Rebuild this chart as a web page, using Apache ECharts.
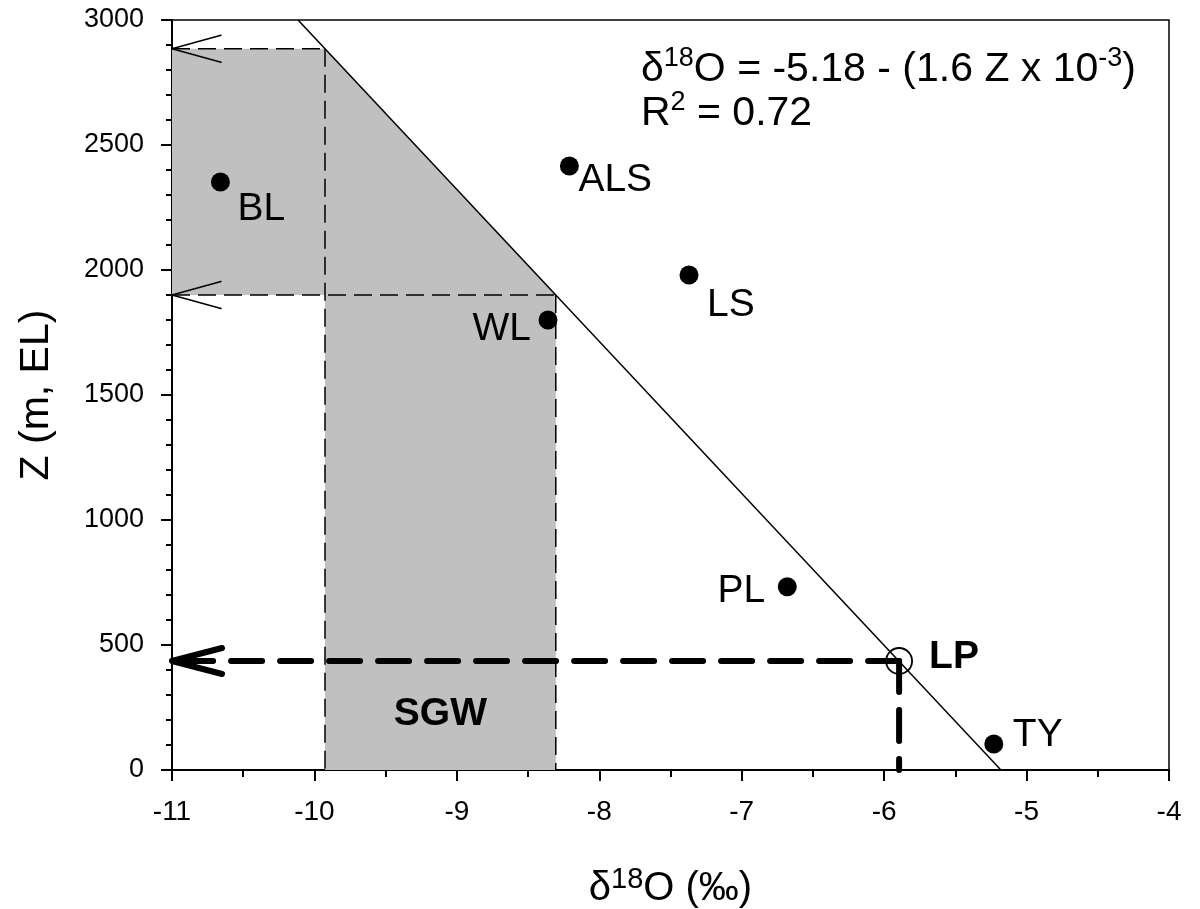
<!DOCTYPE html>
<html><head><meta charset="utf-8">
<script src="https://cdn.jsdelivr.net/npm/echarts@6/dist/echarts.min.js"></script>
<style>html,body{margin:0;padding:0;background:#fff}#c{width:1200px;height:909px}</style>
</head><body><div id="c"></div>
<script>
// ---- data ----
const sampleNames = ['BL', 'ALS', 'LS', 'WL', 'PL', 'TY'];
const sampleD18O = [-10.66, -8.21, -7.37, -8.36, -6.68, -5.23];
const sampleZ = [2352, 2416, 1980, 1800, 733, 104];
const lpName = 'LP';
const lpD18O = -5.895;
const lpZ = 436;
const fitLineD18O = [-5.18, -10.115];
const fitLineZ = [0, 3000];
const sgwZRange = [1900, 2885];
const sgwLabelZ = 224;
const xTicks = [-11, -10, -9, -8, -7, -6, -5, -4];
const yTicks = [0, 500, 1000, 1500, 2000, 2500, 3000];

// ---- styles ----
const FONT = 'Liberation Sans';
const labelStyle = {
  BL:  { align: 'left',  offset: [17, 27] },
  ALS: { align: 'left',  offset: [9, 14] },
  LS:  { align: 'left',  offset: [18, 30] },
  WL:  { align: 'right', offset: [-17, 9] },
  PL:  { align: 'right', offset: [-22, 4] },
  TY:  { align: 'left',  offset: [19, -9] }
};

function fitD18O(z) {
  const t = (z - fitLineZ[0]) / (fitLineZ[1] - fitLineZ[0]);
  return fitLineD18O[0] + t * (fitLineD18O[1] - fitLineD18O[0]);
}
const xMin = xTicks[0], xMax = xTicks[xTicks.length - 1];
const yMin = yTicks[0], yMax = yTicks[yTicks.length - 1];
const dLow = fitD18O(sgwZRange[0]);
const dHigh = fitD18O(sgwZRange[1]);

const sgwPolygon = [
  [xMin, sgwZRange[1]], [dHigh, sgwZRange[1]], [dLow, sgwZRange[0]],
  [dLow, yMin], [dHigh, yMin], [dHigh, sgwZRange[0]], [xMin, sgwZRange[0]]
];

const thinDash = { color: '#000', width: 1.5, type: [18, 8] };
const thickDash = { color: '#000', width: 6, type: [31, 18], cap: 'round' };

function lineSeries(data, style, z) {
  return { type: 'line', data: data, symbol: 'none', showSymbol: false, silent: true,
    lineStyle: style, z: z, animation: false, clip: false };
}

function arrowSeries(data, len, half, width) {
  return {
    type: 'custom', z: 6, silent: true, clip: false,
    data: data,
    renderItem: function (params, api) {
      const tip = api.coord([api.value(0), api.value(1)]);
      return {
        type: 'polyline',
        shape: { points: [[tip[0] + len, tip[1] - half], tip, [tip[0] + len, tip[1] + half]] },
        style: { stroke: '#000', lineWidth: width, fill: null, lineCap: 'round', lineJoin: 'round' }
      };
    }
  };
}

const eqRich = {
  n: { fontFamily: FONT, fontSize: 41, fill: '#000', lineHeight: 50 },
  s: { fontFamily: FONT, fontSize: 27, fill: '#000', lineHeight: 27, verticalAlign: 'top' }
};

const chart = echarts.init(document.getElementById('c'), null, { renderer: 'canvas' });
const option = {
  animation: false,
  backgroundColor: '#fff',
  grid: { left: 172, right: 31, top: 20, bottom: 139, containLabel: false, outerBoundsMode: 'none',
    show: true, borderColor: '#000', borderWidth: 1.5, backgroundColor: 'transparent' },
  xAxis: {
    type: 'value', min: xMin, max: xMax, interval: 1,
    name: '{n|δ}{s|18}{n|O (‰)}', nameLocation: 'middle', nameGap: 95,
    nameTextStyle: { rich: {
      n: { fontFamily: FONT, fontSize: 40, color: '#000', lineHeight: 48 },
      s: { fontFamily: FONT, fontSize: 29, color: '#000', lineHeight: 29, verticalAlign: 'top' }
    } },
    axisLine: { show: true, onZero: false, lineStyle: { color: '#000', width: 2 } },
    axisTick: { show: true, inside: false, length: 11, lineStyle: { color: '#000', width: 2 } },
    minorTick: { show: true, splitNumber: 2, length: 7, lineStyle: { color: '#000', width: 2 } },
    splitLine: { show: false },
    axisLabel: { fontFamily: FONT, fontSize: 28, color: '#000', margin: 28,
      formatter: function (v) { return String(v); } }
  },
  yAxis: {
    type: 'value', min: yMin, max: yMax, interval: 500,
    name: 'Z (m, EL)', nameLocation: 'middle', nameGap: 115,
    nameTextStyle: { fontFamily: FONT, fontSize: 41, color: '#000' },
    axisLine: { show: true, onZero: false, lineStyle: { color: '#000', width: 2 } },
    axisTick: { show: true, inside: false, length: 11, lineStyle: { color: '#000', width: 2 } },
    minorTick: { show: true, splitNumber: 5, length: 6, lineStyle: { color: '#000', width: 2 } },
    splitLine: { show: false },
    axisLabel: { fontFamily: FONT, fontSize: 27, color: '#000', margin: 28,
      formatter: function (v) { return String(v); } }
  },
  graphic: [
    { type: 'text', left: 641, top: 45, z: 100,
      style: { text: '{n|δ}{s|18}{n|O = -5.18 - (1.6 Z x 10}{s|-3}{n|)}', rich: eqRich } },
    { type: 'text', left: 641, top: 89, z: 100,
      style: { text: '{n|R}{s|2}{n| = 0.72}', rich: eqRich } }
  ],
  series: [
    {
      type: 'custom', z: 1, silent: true,
      data: sgwPolygon,
      renderItem: function (params, api) {
        if (params.dataIndex !== 0) return null;
        const pts = sgwPolygon.map(function (v) { return api.coord(v); });
        return { type: 'polygon', shape: { points: pts }, style: { fill: '#c0c0c0', stroke: null } };
      }
    },
    lineSeries([[xMin, sgwZRange[1]], [dHigh, sgwZRange[1]]], thinDash, 3),
    lineSeries([[dHigh, sgwZRange[1]], [dHigh, yMin]], thinDash, 3),
    lineSeries([[xMin, sgwZRange[0]], [dLow, sgwZRange[0]]], thinDash, 3),
    lineSeries([[dLow, sgwZRange[0]], [dLow, yMin]], thinDash, 3),
    lineSeries(fitLineD18O.map(function (d, i) { return [d, fitLineZ[i]]; }), { color: '#000', width: 1.5, type: 'solid' }, 4),
    lineSeries([[lpD18O, lpZ], [xMin, lpZ]], thickDash, 5),
    lineSeries([[lpD18O, lpZ], [lpD18O, yMin]], thickDash, 5),
    arrowSeries([[xMin, sgwZRange[1]], [xMin, sgwZRange[0]]], 49, 13.5, 1.5),
    arrowSeries([[xMin, lpZ]], 50, 13, 6),
    {
      type: 'scatter', z: 7, symbol: 'circle', symbolSize: 19,
      itemStyle: { color: '#000', opacity: 1 },
      label: { show: true, position: 'inside', verticalAlign: 'middle', fontFamily: FONT, fontSize: 39, color: '#000',
        formatter: function (p) { return p.data.name; } },
      data: sampleNames.map(function (n, i) {
        return { name: n, value: [sampleD18O[i], sampleZ[i]],
          label: { align: labelStyle[n].align, offset: labelStyle[n].offset } };
      })
    },
    {
      type: 'scatter', z: 8, symbol: 'circle', symbolSize: 26,
      itemStyle: { color: 'rgba(0,0,0,0)', borderColor: '#000', borderWidth: 1.8, opacity: 1 },
      label: { show: true, position: 'inside', align: 'left', verticalAlign: 'middle', offset: [30, -4],
        fontFamily: FONT, fontSize: 39, fontWeight: 'bold', color: '#000',
        formatter: function (p) { return p.data.name; } },
      data: [{ name: lpName, value: [lpD18O, lpZ] }]
    },
    {
      type: 'scatter', z: 8, symbolSize: 0, silent: true,
      itemStyle: { opacity: 1 },
      label: { show: true, position: 'inside', align: 'center', verticalAlign: 'middle',
        fontFamily: FONT, fontSize: 39, fontWeight: 'bold', color: '#000',
        formatter: function (p) { return p.data.name; } },
      data: [{ name: 'SGW', value: [(dLow + dHigh) / 2, sgwLabelZ] }]
    }
  ]
};
chart.setOption(option);
</script>
</body></html>
